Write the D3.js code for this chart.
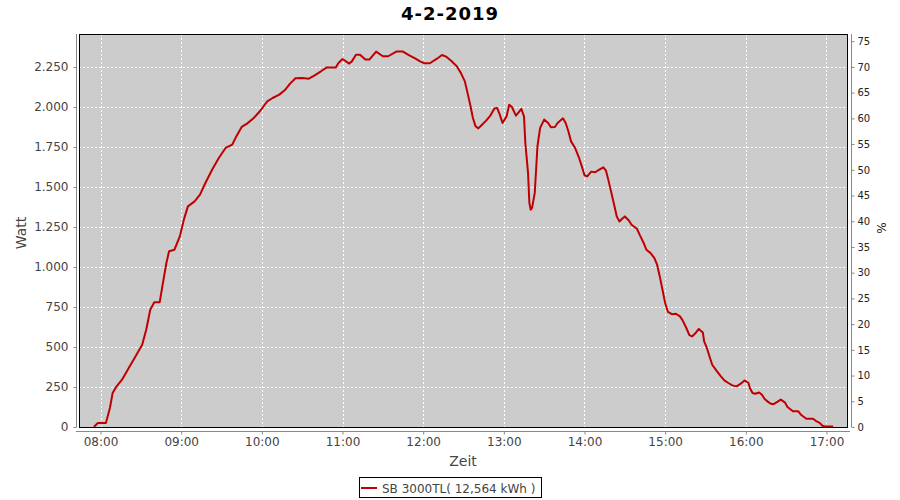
<!DOCTYPE html>
<html>
<head>
<meta charset="utf-8">
<script src="https://cdn.jsdelivr.net/npm/d3@7"></script>
<style>
  html, body { margin: 0; padding: 0; background: #fff; }
  svg { display: block; font-family: "DejaVu Sans", sans-serif; }
</style>
</head>
<body>
<svg id="chart" width="900" height="500"></svg>
<script>
// ---- data ----
const chartTitle = "4-2-2019";
const seriesName = "SB 3000TL( 12,564 kWh )";
const times = ["07:55","07:58","08:04","08:07","08:09","08:12","08:16","08:21","08:26","08:31","08:34","08:37","08:40","08:44","08:46","08:49","08:51","08:55","08:59","09:02","09:05","09:10","09:14","09:18","09:23","09:28","09:33","09:38","09:41","09:45","09:49","09:54","09:59","10:04","10:08","10:13","10:17","10:21","10:25","10:30","10:35","10:39","10:44","10:48","10:55","10:57","11:00","11:05","11:07","11:10","11:13","11:17","11:20","11:25","11:30","11:34","11:40","11:45","11:49","11:54","11:58","12:01","12:05","12:10","12:14","12:17","12:21","12:25","12:28","12:31","12:33","12:35","12:37","12:39","12:41","12:43","12:47","12:50","12:53","12:55","12:57","12:59","13:02","13:04","13:06","13:09","13:11","13:13","13:15","13:16","13:18","13:19","13:20","13:21","13:23","13:24","13:25","13:27","13:30","13:33","13:35","13:38","13:40","13:44","13:46","13:48","13:50","13:53","13:56","13:58","14:00","14:02","14:05","14:08","14:11","14:14","14:16","14:18","14:20","14:22","14:24","14:26","14:28","14:30","14:33","14:35","14:39","14:41","14:44","14:46","14:49","14:52","14:54","14:56","14:58","15:00","15:02","15:05","15:08","15:11","15:13","15:16","15:18","15:20","15:23","15:25","15:28","15:29","15:31","15:33","15:35","15:38","15:41","15:44","15:47","15:50","15:53","15:56","15:59","16:02","16:03","16:05","16:07","16:10","16:12","16:14","16:17","16:19","16:21","16:24","16:26","16:29","16:31","16:35","16:39","16:41","16:45","16:50","16:52","16:55","16:57","16:59","17:05"];
const watts = [0,25,25,119,212,254,296,369,441,514,608,733,779,779,879,1025,1098,1108,1191,1296,1379,1410,1452,1525,1608,1681,1744,1765,1816,1875,1896,1931,1978,2035,2056,2077,2104,2146,2179,2181,2177,2196,2223,2246,2246,2275,2300,2271,2285,2327,2327,2296,2296,2346,2317,2317,2346,2346,2325,2304,2283,2273,2273,2300,2325,2315,2287,2254,2213,2160,2088,2014,1931,1879,1866,1883,1916,1946,1991,1994,1952,1900,1941,2014,2000,1946,1966,1988,1941,1775,1588,1400,1358,1369,1463,1608,1754,1869,1921,1900,1873,1875,1900,1929,1900,1848,1785,1744,1681,1629,1573,1566,1596,1592,1608,1623,1602,1535,1463,1390,1316,1284,1301,1316,1291,1264,1239,1202,1150,1108,1088,1056,1014,941,858,775,720,705,708,691,666,614,574,566,591,613,591,535,494,441,389,354,321,291,275,260,254,269,291,275,244,212,208,216,202,175,154,144,144,160,171,154,125,98,98,77,52,52,39,25,8,3,3];
const wattTicks = [0,250,500,750,1000,1250,1500,1750,2000,2250];
const pctTicks = [0,5,10,15,20,25,30,35,40,45,50,55,60,65,70,75];
const hourTicks = ["08:00","09:00","10:00","11:00","12:00","13:00","14:00","15:00","16:00","17:00"];
const xDomain = ["07:44","17:16"];
const wattMax = 2456;
const pctMax = 76.4;

// ---- layout ----
const plot = {left: 79, right: 848, top: 34, bottom: 427};
const svg = d3.select("#chart");
const parseT = d3.timeParse("%H:%M");
const data = times.map((t, i) => ({t: parseT(t), w: watts[i]}));

const x = d3.scaleTime().domain(xDomain.map(parseT)).range([plot.left, plot.right]);
const y = d3.scaleLinear().domain([0, wattMax]).range([plot.bottom, plot.top]);
const y2 = d3.scaleLinear().domain([0, pctMax]).range([plot.bottom, plot.top]);
const de = d3.formatLocale({decimal: ",", thousands: ".", grouping: [3], currency: ["", "€"]});
const fmtW = de.format(",d");

// Title
svg.append("text").attr("x", 450).attr("y", 20).attr("text-anchor", "middle")
  .attr("font-size", 18).attr("font-weight", "bold").attr("letter-spacing", 1).attr("fill", "#000")
  .text(chartTitle);

// Plot background
svg.append("rect").attr("x", plot.left).attr("y", plot.top)
  .attr("width", plot.right - plot.left).attr("height", plot.bottom - plot.top)
  .attr("fill", "#cccccc");

// gridlines
const grid = svg.append("g").attr("stroke", "#fff").attr("stroke-width", 1).attr("stroke-dasharray", "2,2").attr("shape-rendering", "crispEdges");
grid.selectAll("line.h").data(wattTicks).join("line")
  .attr("x1", plot.left).attr("x2", plot.right)
  .attr("y1", d => Math.round(y(d)) + 0.5).attr("y2", d => Math.round(y(d)) + 0.5);
grid.selectAll("line.v").data(hourTicks.map(parseT)).join("line")
  .attr("y1", plot.top).attr("y2", plot.bottom)
  .attr("x1", d => Math.round(x(d)) + 0.5).attr("x2", d => Math.round(x(d)) + 0.5);

// Line
const line = d3.line().x(d => x(d.t)).y(d => y(d.w));
svg.append("path").datum(data).attr("d", line)
  .attr("fill", "none").attr("stroke", "#c00000").attr("stroke-width", 2).attr("stroke-linejoin", "round");

// Plot outline
svg.append("rect").attr("x", plot.left + 0.5).attr("y", plot.top + 0.5)
  .attr("width", plot.right - plot.left - 1).attr("height", plot.bottom - plot.top)
  .attr("fill", "none").attr("stroke", "#000").attr("stroke-width", 1).attr("shape-rendering", "crispEdges");

// Left axis
const gl = svg.append("g").attr("transform", "translate(76.5,0)")
  .call(d3.axisLeft(y).tickValues(wattTicks).tickFormat(fmtW).tickSizeOuter(0).tickSizeInner(3).tickPadding(5));
gl.select(".domain").attr("stroke", "#888").attr("d", `M0,${plot.top}V${plot.bottom}`);
gl.selectAll(".tick line").attr("stroke", "#888");
gl.selectAll("text").attr("font-family", "DejaVu Sans").attr("font-size", 12).attr("fill", "#444");

// Right axis
const gr = svg.append("g").attr("transform", "translate(851.5,0)")
  .call(d3.axisRight(y2).tickValues(pctTicks).tickSizeOuter(0).tickSizeInner(3).tickPadding(3));
gr.select(".domain").attr("stroke", "#888").attr("d", `M0,${plot.top}V${plot.bottom}`);
gr.selectAll(".tick line").attr("stroke", "#888");
gr.selectAll("text").attr("font-family", "DejaVu Sans").attr("font-size", 10).attr("fill", "#222");

// Bottom axis
const gb = svg.append("g").attr("transform", "translate(0,431.5)")
  .call(d3.axisBottom(x).tickValues(hourTicks.map(parseT)).tickFormat(d3.timeFormat("%H:%M")).tickSizeOuter(0).tickSizeInner(3).tickPadding(3));
gb.select(".domain").attr("stroke", "#888").attr("d", `M${plot.left - 3},0H${plot.right + 2}`);
gb.selectAll(".tick line").attr("stroke", "#888");
gb.selectAll("text").attr("font-family", "DejaVu Sans").attr("font-size", 12).attr("fill", "#444");

// Axis labels
svg.append("text").attr("transform", "translate(26,233) rotate(-90)").attr("text-anchor", "middle")
  .attr("font-size", 14).attr("fill", "#444").text("Watt");
svg.append("text").attr("x", 463).attr("y", 466).attr("text-anchor", "middle")
  .attr("font-size", 14).attr("fill", "#444").text("Zeit");
svg.append("text").attr("transform", "translate(886,228) rotate(-90)").attr("text-anchor", "middle")
  .attr("font-size", 12).attr("fill", "#222").text("%");

// Legend
const lg = svg.append("g");
lg.append("rect").attr("x", 359.5).attr("y", 477.5).attr("width", 182).attr("height", 20)
  .attr("fill", "#fff").attr("stroke", "#000").attr("stroke-width", 1);
lg.append("line").attr("x1", 361).attr("x2", 377).attr("y1", 488).attr("y2", 488)
  .attr("stroke", "#c00000").attr("stroke-width", 2);
lg.append("text").attr("x", 382).attr("y", 492.5).attr("font-size", 12).attr("fill", "#444").text(seriesName);
</script>
</body>
</html>
